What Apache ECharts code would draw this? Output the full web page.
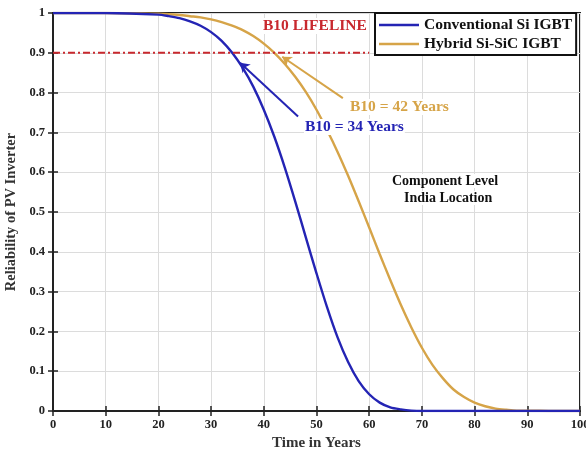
<!DOCTYPE html>
<html><head><meta charset="utf-8">
<script src="https://cdn.jsdelivr.net/npm/echarts@6/dist/echarts.min.js"></script>
<style>html,body{margin:0;padding:0;background:#fff}#c{width:586px;height:455px}</style>
</head><body><div id="c"></div>
<script>
const years = [0,10,20,22,24,26,28,30,32,34,36,38,40,42,44,46,48,50,52,54,56,58,60,62,64,66,68,70,72,74,76,78,80,82,84,86,88,90,95,100];
const conventionalSi = [1,1,0.996,0.992,0.987,0.979,0.968,0.952,0.930,0.900,0.862,0.815,0.757,0.689,0.611,0.525,0.435,0.346,0.261,0.185,0.123,0.075,0.042,0.021,0.009,0.004,0.001,0,0,0,0,0,0,0,0,0,0,0,0,0];
const hybridSiSiC = [1,1,0.998,0.997,0.995,0.992,0.989,0.984,0.977,0.968,0.957,0.942,0.923,0.900,0.872,0.839,0.801,0.757,0.706,0.651,0.591,0.527,0.461,0.394,0.329,0.267,0.210,0.159,0.116,0.082,0.054,0.035,0.021,0.012,0.006,0.003,0.001,0.001,0,0];
const xTicks = [0,10,20,30,40,50,60,70,80,90,100];
const b10Level = 0.9;
const b10LineEnd = 60;
const arrowSi = [[46.5,0.74],[35.5,0.875]];
const arrowHybrid = [[55,0.786],[43.5,0.89]];

const F = '"Liberation Serif","Times New Roman",serif';
const BLUE = '#2424b4', TAN = '#d6a448', RED = '#c8282e';
const chart = echarts.init(document.getElementById('c'));
const pair = (xs, ys) => xs.map((x,i)=>[x, ys[i]]);
const axLbl = {fontFamily:F, fontWeight:'bold', fontSize:12.5, color:'#222'};
const txt = (l,t,s,size,fill) => ({type:'text', left:l, top:t, z:100,
  style:{text:s, font:'bold '+size+'px '+F, fill:fill, backgroundColor:'#fff', padding:[0,1]}});
chart.setOption({
  animation:false,
  backgroundColor:'#fff',
  grid:{left:53,right:6,top:13,bottom:44,containLabel:false,outerBoundsMode:'none',
        show:true,borderColor:'#222',borderWidth:2},
  legend:{
    data:['Conventional Si IGBT','Hybrid Si-SiC IGBT'],
    orient:'vertical', left:375, top:13, padding:[4,4,3,4], itemGap:3,
    icon:'rect', itemWidth:40, itemHeight:2.5, backgroundColor:'#fff', borderColor:'#111', borderWidth:2,
    textStyle:{fontFamily:F, fontWeight:'bold', fontSize:15.5, color:'#111'}
  },
  xAxis:[{
    type:'value', min:0, max:100, interval:10,
    name:'Time in Years', nameLocation:'middle', nameGap:25,
    nameTextStyle:{fontFamily:F, fontWeight:'bold', fontSize:15, color:'#333'},
    axisLine:{lineStyle:{color:'#222',width:2}},
    axisTick:{inside:true,length:5,lineStyle:{color:'#222',width:1.5}},
    axisLabel:Object.assign({margin:7, formatter:v=>xTicks.includes(v)?String(v):''},axLbl),
    splitLine:{show:true,lineStyle:{color:'#dcdcdc',width:1}}
  },{
    type:'value', min:0, max:100, interval:10, position:'top',
    axisLine:{show:false}, axisTick:{inside:true,length:5,lineStyle:{color:'#222',width:1.5}},
    axisLabel:{show:false}, splitLine:{show:false}
  }],
  yAxis:[{
    type:'value', min:0, max:1, interval:0.1,
    name:'Reliability of PV Inverter', nameLocation:'middle', nameGap:21,
    nameTextStyle:{fontFamily:F, fontWeight:'bold', fontSize:14.5, color:'#333'},
    axisLine:{lineStyle:{color:'#222',width:2}},
    axisTick:{inside:true,length:5,lineStyle:{color:'#222',width:1.5}},
    axisLabel:Object.assign({margin:8, formatter:v=>String(+v.toFixed(1))},axLbl),
    splitLine:{show:true,lineStyle:{color:'#dcdcdc',width:1}}
  },{
    type:'value', min:0, max:1, interval:0.1, position:'right',
    axisLine:{show:false}, axisTick:{inside:true,length:5,lineStyle:{color:'#222',width:1.5}},
    axisLabel:{show:false}, splitLine:{show:false}
  }],
  series:[
    {name:'Hybrid Si-SiC IGBT', type:'line', data:pair(years,hybridSiSiC), smooth:0.3, symbol:'none',
     lineStyle:{color:TAN,width:2.4}, itemStyle:{color:TAN}, z:3,
     markLine:{silent:true, symbol:['none','arrow'], symbolSize:9,
       lineStyle:{color:TAN,width:2,type:'solid'}, label:{show:false},
       data:[[{coord:arrowHybrid[0]},{coord:arrowHybrid[1]}]]}},
    {name:'Conventional Si IGBT', type:'line', data:pair(years,conventionalSi), smooth:0.3, symbol:'none',
     lineStyle:{color:BLUE,width:2.4}, itemStyle:{color:BLUE}, z:4,
     markLine:{silent:true, symbol:['none','arrow'], symbolSize:9,
       lineStyle:{color:BLUE,width:2,type:'solid'}, label:{show:false},
       data:[[{coord:arrowSi[0]},{coord:arrowSi[1]}]]}},
    {name:'B10', type:'line', data:[[0,b10Level],[b10LineEnd,b10Level]], symbol:'none',
     lineStyle:{color:RED,width:2,type:[7,3,2,3]}, z:5}
  ],
  graphic:[
    txt(262,18,'B10 LIFELINE',15.5,RED),
    txt(349,99,'B10 = 42 Years',15.5,TAN),
    txt(304,119,'B10 = 34 Years',15.5,BLUE),
    txt(391,174,'Component Level',14,'#111'),
    txt(403,191,'India Location',14,'#111')
  ]
});
</script></body></html>
